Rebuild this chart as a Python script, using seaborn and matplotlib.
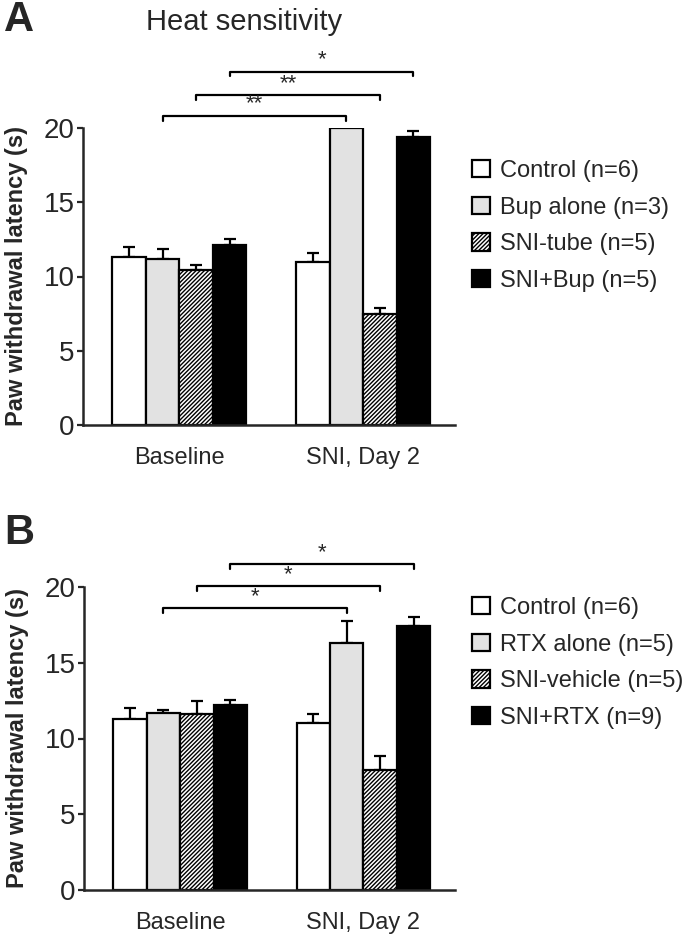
import matplotlib
matplotlib.use("Agg")
import matplotlib.pyplot as plt
from matplotlib.patches import Patch
import pandas as pd
import seaborn as sns

# data
times = ['Baseline', 'SNI, Day 2']

groups_a = ['Control (n=6)', 'Bup alone (n=3)', 'SNI-tube (n=5)', 'SNI+Bup (n=5)']
a_baseline = [11.3, 11.15, 10.45, 12.15]
a_baseline_err = [0.7, 0.7, 0.35, 0.35]
a_day2 = [11.0, 20.0, 7.5, 19.4]
a_day2_err = [0.6, 0.0, 0.4, 0.4]
a_brackets = [1, 2, 3]          # hue index compared baseline vs day2
a_bracket_y = [20.8, 22.2, 23.8]
a_stars = ['**', '**', '*']

groups_b = ['Control (n=6)', 'RTX alone (n=5)', 'SNI-vehicle (n=5)', 'SNI+RTX (n=9)']
b_baseline = [11.3, 11.7, 11.65, 12.2]
b_baseline_err = [0.7, 0.15, 0.8, 0.35]
b_day2 = [11.0, 16.3, 7.9, 17.45]
b_day2_err = [0.65, 1.45, 0.95, 0.6]
b_brackets = [1, 2, 3]
b_bracket_y = [18.6, 20.05, 21.5]
b_stars = ['*', '*', '*']

face = ['white', '#e2e2e2', 'white', 'black']
hatches = [None, None, '////////', None]

sns.set_style('ticks')
plt.rcParams['font.family'] = ['Liberation Sans', 'DejaVu Sans']
plt.rcParams['hatch.linewidth'] = 1.0


def panel(ax, groups, base, base_err, day2, day2_err, br, br_y, stars, legend_top):
    df = pd.DataFrame({
        'time': [times[0]] * 4 + [times[1]] * 4,
        'group': groups + groups,
        'mean': base + day2,
        'err': base_err + day2_err,
    })
    sns.barplot(data=df, x='time', y='mean', hue='group', hue_order=groups,
                palette=face, edgecolor='black', linewidth=1.6, width=0.73,
                gap=0, errorbar=None, legend=False, ax=ax, zorder=2)
    centers = {}
    bar_conts = list(ax.containers)
    for i, cont in enumerate(bar_conts):
        for j, bar in enumerate(cont.patches):
            bar.set_facecolor(face[i])
            bar.set_edgecolor('black')
            if hatches[i]:
                bar.set_hatch(hatches[i])
            x = bar.get_x() + bar.get_width() / 2
            centers[(i, j)] = x
            h = bar.get_height()
            e = df['err'][j * 4 + i]
            if e > 0:
                ax.errorbar(x, h, yerr=[[0], [e]], fmt='none', ecolor='black',
                            elinewidth=1.6, capsize=4, capthick=1.6, zorder=1)
    # significance brackets
    for k, i in enumerate(br):
        x1, x2 = centers[(i, 0)], centers[(i, 1)]
        y = br_y[k]
        ax.plot([x1, x1, x2, x2], [y - 0.3, y, y, y - 0.3], color='black',
                lw=1.6, clip_on=False)
        ax.text((x1 + x2) / 2, y + 0.1, stars[k], ha='center', va='bottom',
                fontsize=16)
    ax.set_ylim(0, 20)
    ax.set_yticks([0, 5, 10, 15, 20])
    ax.set_xlim(-0.525, 1.5)
    ax.set_xlabel('')
    ax.set_ylabel('Paw withdrawal latency (s)', fontsize=17, fontweight='bold')
    ax.yaxis.set_label_coords(-0.148, 0.5)
    ax.tick_params(axis='y', labelsize=20, length=4, width=1.6, pad=2)
    ax.tick_params(axis='x', labelsize=17, length=0, pad=16)
    sns.despine(ax=ax)
    for s in ['left', 'bottom']:
        ax.spines[s].set_linewidth(1.8)
    handles = [Patch(facecolor=face[i], edgecolor='black', hatch=hatches[i],
                     linewidth=1.6, label=groups[i]) for i in range(4)]
    fig.legend(handles=handles, loc='upper left',
               bbox_to_anchor=(472 / 685, legend_top), frameon=False,
               fontsize=17, handlelength=0.75, handleheight=0.75,
               handletextpad=0.45, labelspacing=0.62, borderpad=0,
               borderaxespad=0)


fig = plt.figure(figsize=(6.85, 9.4), dpi=100)
ax_a = fig.add_axes([83 / 685, 1 - 425 / 940, 372 / 685, 297 / 940])
ax_b = fig.add_axes([84 / 685, 1 - 890 / 940, 371 / 685, 303 / 940])

panel(ax_a, groups_a, a_baseline, a_baseline_err, a_day2, a_day2_err,
      a_brackets, a_bracket_y, a_stars, 1 - 160 / 940)
panel(ax_b, groups_b, b_baseline, b_baseline_err, b_day2, b_day2_err,
      b_brackets, b_bracket_y, b_stars, 1 - 597 / 940)

fig.text(0.006, 1 - 20 / 940, 'A', fontsize=30, fontweight='bold', va='center')
fig.text(0.006, 1 - 533 / 940, 'B', fontsize=30, fontweight='bold', va='center')
fig.text(244 / 685, 1 - 22 / 940, 'Heat sensitivity', fontsize=21,
         ha='center', va='center')

fig.savefig('out.png', dpi=100)
